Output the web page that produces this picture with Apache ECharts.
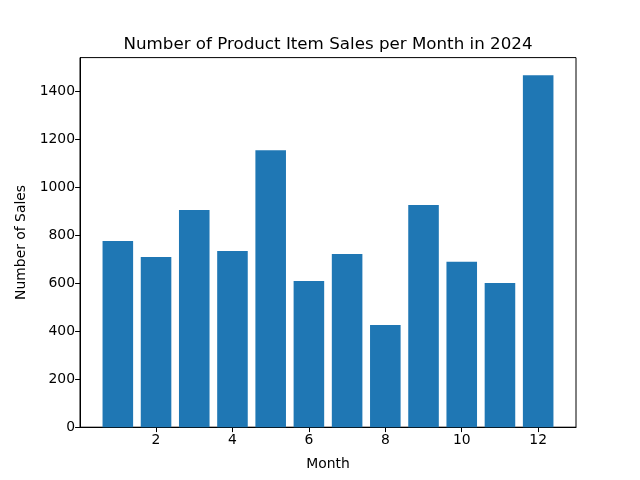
<!DOCTYPE html>
<html>
<head>
<meta charset="utf-8">
<script src="https://cdn.jsdelivr.net/npm/echarts@6/dist/echarts.min.js"></script>
<style>
html,body{margin:0;padding:0;background:#fff;}
#chart{width:640px;height:480px;}
</style>
</head>
<body>
<div id="chart"></div>
<script>
const months = [1,2,3,4,5,6,7,8,9,10,11,12];
const sales = [777,710,906,735,1156,610,723,427,927,690,602,1469];
const xTicks = [2,4,6,8,10,12];
const yTicks = [0,200,400,600,800,1000,1200,1400];
const titleText = 'Number of Product Item Sales per Month in 2024';

const gridLeft = 80, gridRight = 64, gridTop = 57.6, gridBottom = 52.8;
const xMin = 0.01, xMax = 12.99;
const yMax = Math.max(...sales) * 1.05;
const barWidthPx = 0.8 * (640 - gridLeft - gridRight) / (xMax - xMin);

const font = 'DejaVu Sans';
const chart = echarts.init(document.getElementById('chart'), null, {renderer:'canvas'});
chart.setOption({
  animation: false,
  backgroundColor: '#fff',
  graphic: [{
    type: 'text', x: 328, y: 53,
    style: {text: titleText, x: 0, y: 0, textAlign: 'center', textVerticalAlign: 'bottom',
            fontFamily: font, fontSize: 16.7, fill: '#000'}
  }],
  grid: {left: gridLeft, right: gridRight, top: gridTop, bottom: gridBottom,
         show: true, borderColor: '#000', borderWidth: 1, backgroundColor: 'transparent'},
  xAxis: {
    type: 'value', min: xMin, max: xMax,
    name: 'Month', nameLocation: 'middle', nameGap: 30,
    nameTextStyle: {fontFamily: font, fontSize: 13.9, color: '#000'},
    axisLine: {show: true, lineStyle: {color: '#000', width: 1}},
    axisTick: {show: true, length: 4.9, lineStyle: {color: '#000', width: 1}, customValues: xTicks},
    axisLabel: {fontFamily: font, fontSize: 13.9, color: '#000', margin: 6, customValues: xTicks},
    splitLine: {show: false}
  },
  yAxis: {
    type: 'value', min: 0, max: yMax,
    name: 'Number of Sales', nameLocation: 'middle', nameGap: 46, nameRotate: 90,
    nameTextStyle: {fontFamily: font, fontSize: 13.9, color: '#000'},
    axisLine: {show: true, lineStyle: {color: '#000', width: 1}},
    axisTick: {show: true, length: 4.9, lineStyle: {color: '#000', width: 1}, customValues: yTicks},
    axisLabel: {fontFamily: font, fontSize: 13.9, color: '#000', margin: 5, customValues: yTicks,
                formatter: v => String(v)},
    splitLine: {show: false}
  },
  series: [{
    type: 'bar',
    data: months.map((m, i) => [m, sales[i]]),
    barWidth: barWidthPx,
    itemStyle: {color: '#1f77b4', borderWidth: 0}
  }]
});
</script>
</body>
</html>
